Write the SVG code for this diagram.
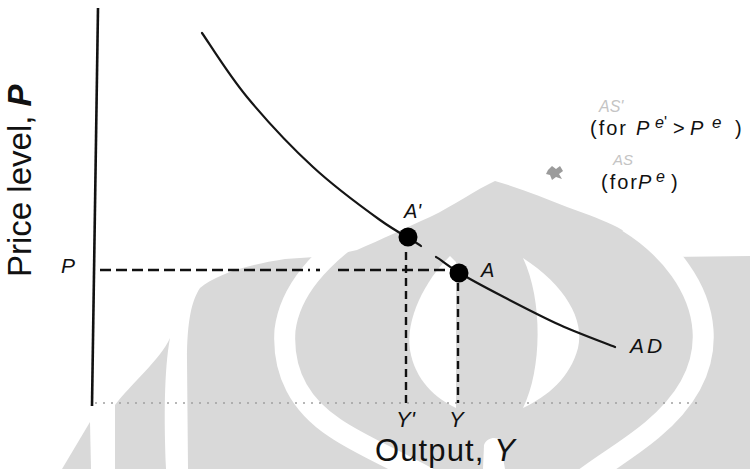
<svg xmlns="http://www.w3.org/2000/svg" width="750" height="469" viewBox="0 0 750 469">
<style>
 .wm{fill:#d9d9d9}
 .wmw{fill:#ffffff}
 .band{fill:none;stroke:#ffffff;stroke-width:21}
 .axis{stroke:#111;stroke-width:2.6;fill:none}
 .xaxis{stroke:#a0a0a0;stroke-width:1.5;stroke-dasharray:2 6;fill:none}
 .curve{stroke:#151515;stroke-width:2.2;fill:none;stroke-linecap:round}
 .hdash{stroke:#111;stroke-width:2.6;stroke-dasharray:11 5;fill:none}
 .vdash{stroke:#111;stroke-width:2.4;stroke-dasharray:8 5;fill:none}
 .dot{fill:#000}
 text{font-family:"Liberation Sans",Arial,sans-serif;fill:#111}
 .it{font-style:italic}
 .faint{fill:#c4c4c4;font-style:italic}
</style>
<rect width="750" height="469" fill="#fff"/>
<g id="watermark">
 <polygon class="wm" points="62,469 90,422 91,469"/>
 <path class="wm" d="M170,338 C160,360 130,385 115,405 L115,469 L166,469 C164,420 164,370 170,338 Z"/>
 <path class="wm" d="M188,469 L187,360 C187,320 192,300 200,288 C215,276 240,266 285,259 L330,256 L357,250 C380,240 410,226 430,217 C455,205 475,190 495,181 C520,188 545,198 567,207 C590,215 605,221 617,227 C640,240 655,250 668,257 L750,256 L750,469 Z"/>
 <path class="band" d="M362,228 C320,258 290,290 285,330 C282,372 300,405 335,428 C360,445 392,458 428,478"/>
 <path class="band" d="M628,222 C670,248 700,288 703,330 C706,372 682,405 652,430 C628,450 606,462 585,478"/>
 <path class="wmw" d="M450,256 C425,280 405,320 410,350 C415,380 435,398 456,408 L456,262 Z"/>
 <path class="wmw" d="M523,258 C565,285 585,320 578,348 C570,378 548,396 523,408 C542,370 543,300 523,258 Z"/>
 <path class="wmw" d="M483,469 L484,445 C486,438 496,436 500,440 L505,469 Z"/>
</g>
<g id="axes">
 <line class="axis" x1="98" y1="8" x2="92" y2="406"/>
 <line class="xaxis" x1="95" y1="403" x2="700" y2="403"/>
</g>
<g id="connectors">
 <path id="AD-curve" class="curve" d="M202,33 C209.5,43.7 228.5,74.7 247,97 C265.5,119.3 290.8,146.5 313,167 C335.2,187.5 362.2,207.2 380,220 C397.8,232.8 413.3,240 421,246"/>
 <path class="curve" d="M436,257 C439.7,258.7 447.3,265.5 458,272 C468.7,278.5 483,286.2 500,295 C517,303.8 540.8,316.3 560,325 C579.2,333.7 605.8,343.3 615,347"/>
 <line class="hdash" x1="100" y1="270" x2="310" y2="270"/>
 <line class="hdash" x1="316" y1="270" x2="320" y2="270"/>
 <line class="hdash" x1="338" y1="270" x2="452" y2="270"/>
 <line class="vdash" x1="406" y1="252" x2="406" y2="403"/>
 <line class="vdash" x1="458" y1="283" x2="458" y2="403"/>
</g>
<g id="node-A-prime">
 <circle class="dot" cx="408" cy="237" r="9.5"/>
 <text class="it" x="404" y="218" font-size="20">A'</text>
</g>
<g id="node-A">
 <circle class="dot" cx="459" cy="273" r="9.5"/>
 <text class="it" x="481" y="277" font-size="20">A</text>
</g>
<g id="labels">
 <text class="it" x="61" y="273" font-size="21">P</text>
 <text transform="rotate(-90)" x="-277" y="31" font-size="33">Price level, <tspan font-style="italic" font-weight="bold">P</tspan></text>
 <text x="375" y="461" font-size="31" textLength="140">Output, <tspan font-style="italic">Y</tspan></text>
 <text class="it" x="396" y="427" font-size="22">Y'</text>
 <text class="it" x="449" y="427" font-size="22">Y</text>
 <text class="it" x="630" y="353" font-size="21" letter-spacing="3">AD</text>
 <text class="faint" x="599" y="112" font-size="16">AS'</text>
 <text font-size="20" y="135"><tspan x="590" textLength="36">(for</tspan><tspan x="636" font-style="italic">P</tspan><tspan x="655" dy="-7" font-size="16" font-style="italic">e</tspan><tspan font-size="16">'</tspan><tspan x="673" dy="7">&gt;</tspan><tspan x="690" font-style="italic">P</tspan><tspan x="712" dy="-7" font-size="17" font-style="italic">e</tspan><tspan x="735" dy="7">)</tspan></text>
 <text class="faint" x="613" y="165" font-size="15">AS</text>
 <path d="M548,170 L552,166 L556,169 L560,166 L563,171 L559,174 L562,179 L556,177 L552,180 L550,175 L546,174 Z" fill="#7a7a7a" opacity="0.75"/>
 <text font-size="20" y="189"><tspan x="601" textLength="36">(for</tspan><tspan x="638" font-style="italic">P</tspan><tspan x="656" dy="-7" font-size="16" font-style="italic">e</tspan><tspan x="671" dy="7">)</tspan></text>
</g>
</svg>
